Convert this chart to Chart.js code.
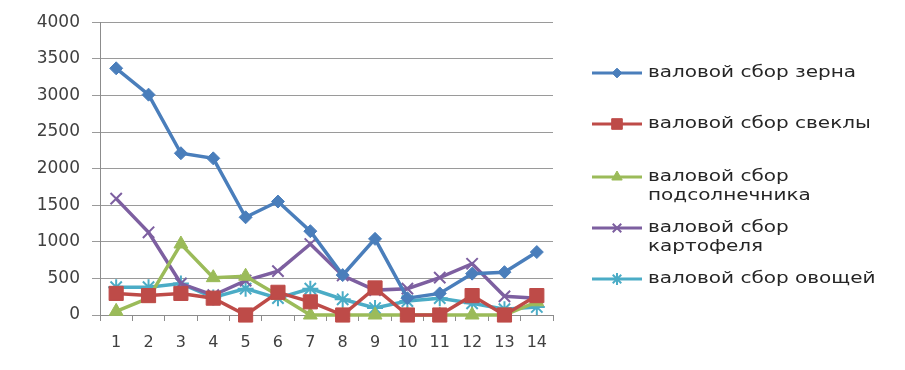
<!DOCTYPE html>
<html><head><meta charset="utf-8">
<script src="https://cdn.jsdelivr.net/npm/chart.js@4/dist/chart.umd.min.js"></script>
<style>html,body{margin:0;padding:0;background:#fff;}#wrap{width:905px;height:370px;}</style>
</head><body><div id="wrap"><canvas id="c" width="905" height="370"></canvas></div>
<script>
const categories = ['1','2','3','4','5','6','7','8','9','10','11','12','13','14'];
const grain      = [3370,3010,2210,2140,1335,1550,1145,545,1040,230,295,565,585,860];
const beet       = [295,265,295,230,0,310,180,0,370,0,0,265,0,265];
const sunflower  = [50,230,970,510,530,270,0,0,0,0,0,0,0,180];
const potato     = [1590,1130,430,270,470,600,970,540,340,360,510,700,255,230];
const vegetables = [380,380,430,240,360,230,360,215,95,190,230,160,80,110];
const seriesNames = [['валовой сбор зерна'],['валовой сбор свеклы'],['валовой сбор','подсолнечника'],['валовой сбор','картофеля'],['валовой сбор овощей']];
const yTicks = [0,500,1000,1500,2000,2500,3000,3500,4000];

const FONT = 'DejaVu Sans';
const colors = ['#4A7EBB','#BE4B48','#9BBB59','#7D5FA0','#4BACC6'];
const styles = [
  {pointStyle:'rectRot', r:6.5},
  {pointStyle:'rect', r:10},
  {pointStyle:'triangle', r:8},
  {pointStyle:'crossRot', r:8},
  {pointStyle:'star', r:8}
];
const legendY = [[73],[124],[177,196],[228,247],[279]];
const series = [grain, beet, sunflower, potato, vegetables];

const datasets = series.map((d,i)=>({
  label: seriesNames[i].join(' '),
  data: d,
  borderColor: colors[i],
  backgroundColor: colors[i],
  borderWidth: 3.5,
  pointStyle: styles[i].pointStyle,
  pointRadius: styles[i].r,
  pointBorderWidth: (i>=3)?2:1,
  pointBackgroundColor: colors[i],
  pointBorderColor: colors[i],
  clip: false,
  tension: 0
}));

const legendPlugin = {
  id:'customLegend',
  afterDraw(chart){
    const ctx = chart.ctx;
    datasets.forEach((ds,i)=>{
      const y0 = legendY[i][0];
      ctx.save();
      ctx.strokeStyle = ds.borderColor;
      ctx.lineWidth = 3;
      ctx.beginPath(); ctx.moveTo(592,y0); ctx.lineTo(642,y0); ctx.stroke();
      ctx.fillStyle = ds.borderColor; ctx.strokeStyle = ds.borderColor; ctx.lineWidth = ds.pointBorderWidth;
      Chart.helpers.drawPoint(ctx,{pointStyle:ds.pointStyle, radius: ds.pointRadius*0.75, borderWidth: ds.pointBorderWidth, rotation:0}, 617, y0);
      ctx.restore();
      ctx.save();
      ctx.fillStyle = '#262626';
      ctx.font = '16px "'+FONT+'"';
      ctx.textBaseline = 'middle';
      ctx.textAlign = 'left';
      ctx.translate(648,0);
      ctx.scale(1.25,1);
      seriesNames[i].forEach((t,k)=>ctx.fillText(t,0,legendY[i][k]));
      ctx.restore();
    });
  }
};

new Chart(document.getElementById('c'),{
  type:'line',
  data:{labels:categories, datasets},
  options:{
    responsive:false,
    animation:false,
    layout:{padding:{left:0,right:352,top:8,bottom:0}},
    plugins:{legend:{display:false},tooltip:{enabled:false}},
    scales:{
      x:{
        offset:true,
        grid:{offset:true, drawOnChartArea:false, drawTicks:true, tickLength:6, color:'#8c8c8c'},
        border:{color:'#8c8c8c', width:1},
        ticks:{color:'#404040', font:{family:FONT,size:16}, padding:12, maxRotation:0, autoSkip:false},
        afterFit(s){ s.height = 55; }
      },
      y:{
        min:0,max:4000,
        afterBuildTicks(s){ s.ticks = yTicks.map(v=>({value:v})); },
        grid:{color:'#9a9a9a', tickLength:8, lineWidth:1},
        border:{color:'#8c8c8c', width:1},
        ticks:{color:'#404040', font:{family:FONT,size:17}, padding:12, callback:(v)=>String(v)},
        afterFit(s){ s.width = 100; }
      }
    }
  },
  plugins:[legendPlugin]
});
</script>
</body></html>
